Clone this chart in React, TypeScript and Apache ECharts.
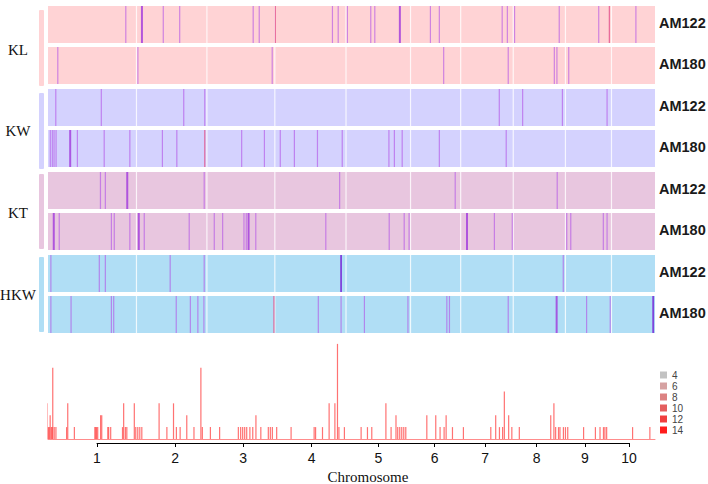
import React, { useEffect, useRef } from 'react';
import * as echarts from 'echarts';

// ---- data ----
const chromLabels = ['1', '2', '3', '4', '5', '6', '7', '8', '9', '10'];
const chromLengths = [307.0, 244.4, 235.7, 247.0, 223.9, 174.0, 182.4, 181.1, 159.8, 151.0];

const traits = ['KL', 'KW', 'KT', 'HKW'];
const lines = ['AM122', 'AM180'];

// [cumulative position (Mb), signal class]
const klAM122 = [[270,1],[326,2],[400,1],[457,1],[712,1],[733,1],[789,3],[987,1],[1007,1],[1039,1],[1120,1],[1134,1],[1221,2],[1327,1],[1358,1],[1576,1],[1594,1],[1619,1],[1774,1],[1911,1],[1948,3],[2040,1]];
const klAM180 = [[34,1],[312,1],[778,1],[1373,1],[1597,1],[1757,1],[1766,1],[1807,1]];
const kwAM122 = [[27,1],[185,1],[471,1],[544,1],[1566,1],[1647,1],[1785,1],[1940,1]];
const kwAM180 = [[8,1],[15,1],[21,1],[28,1],[77,2],[102,1],[195,1],[284,1],[397,1],[447,1],[544,3],[672,1],[751,1],[806,1],[855,1],[935,1],[1021,1],[1183,1],[1202,1],[1229,1],[1358,1],[1590,1]];
const ktAM122 = [[182,1],[199,1],[275,2],[542,1],[1012,1],[1413,1],[1767,1]];
const ktAM180 = [[20,2],[39,1],[220,1],[230,1],[284,1],[315,2],[334,1],[490,1],[577,1],[606,1],[680,1],[688,1],[696,2],[721,1],[964,1],[1184,1],[1236,1],[1253,1],[1454,2],[1549,1],[1611,1],[1800,1],[1814,1],[1927,1],[1940,1]];
const hkwAM122 = [[10,1],[178,1],[199,1],[424,1],[542,1],[1017,4],[1788,1]];
const hkwAM180 = [[10,1],[80,1],[220,1],[228,1],[445,1],[494,1],[520,1],[541,1],[784,3],[938,1],[1017,1],[1098,1],[1249,1],[1384,1],[1393,1],[1597,1],[1765,2],[1869,1],[1951,1],[2100,4]];

const rowData = [klAM122, klAM180, kwAM122, kwAM180, ktAM122, ktAM180, hkwAM122, hkwAM180];

// [cumulative position (Mb), count]
const snpCounts = [[9,3],[13,1],[16,1],[19,2],[23,1],[26,1],[28,6],[33,1],[39,1],
[76,1],[80,3],[103,1],
[174,1],[177,1],[180,1],[184,1],[194,2],[198,2],
[219,1],[222,1],[229,1],
[270,1],[274,3],[280,1],[285,1],
[311,3],[316,1],[323,1],[330,1],[337,1],
[397,3],[424,1],[447,3],[457,1],[470,1],[493,2],[518,1],[542,6],[547,1],[575,1],[607,1],
[672,1],[680,1],[687,1],[694,1],[701,1],[712,1],[722,1],[733,2],[750,1],[776,1],[783,1],[790,1],[805,1],[855,1],[935,1],[940,1],[964,1],[987,3],[1007,3],[1016,8],[1021,1],[1040,1],
[1098,1],[1120,1],[1135,1],[1184,3],[1202,1],[1219,2],[1225,1],[1232,1],[1239,1],[1246,1],[1253,1],
[1326,2],[1357,2],[1372,1],[1386,1],[1393,2],[1415,1],[1453,1],
[1548,1],[1565,2],[1578,1],[1589,1],[1595,4],[1610,2],[1621,1],[1647,1],
[1756,2],[1767,3],[1773,1],[1783,1],[1788,1],[1800,1],[1807,1],[1815,1],[1870,1],[1911,1],[1927,1],[1939,1],[1944,1],[1950,1],[2040,1],[2100,1]];

const legendLabels = ['4', '6', '8', '10', '12', '14'];

// ---- styling ----
const traitColors = ['#FFD3D5', '#D4D2FE', '#E8C6DF', '#B0DEF5'];
const legendColors = ['#c2c2c2', '#d6a2a2', '#dc8282', '#e45e5e', '#f03e3e', '#ff1c1c'];
const stripeColors: Record<number, string> = {
  1: 'rgba(178,80,230,0.62)',
  2: 'rgba(160,55,220,0.8)',
  3: 'rgba(225,75,135,0.75)',
  4: 'rgba(120,45,215,0.88)',
};
const stripeWidths: Record<number, number> = { 1: 1.2, 2: 2.0, 3: 1.3, 4: 1.8 };

const rowTops = [6, 47, 89, 130, 172, 213, 255, 296];
const rowH = 37;
const plotLeft = 48;
const plotW = 607;

export default function App() {
  const ref = useRef<HTMLDivElement>(null);
  useEffect(() => {
    const chart = echarts.init(ref.current!, null, { renderer: 'svg' });

    const genomeLen = chromLengths.reduce((a, b) => a + b, 0);
    const cum: number[] = [];
    let acc = 0;
    chromLengths.forEach((l) => { cum.push(acc); acc += l; });
    const boundaries = cum.slice(1);
    const mids = chromLengths.map((l, i) => cum[i] + l / 2);

    const grids: any[] = [];
    const xAxes: any[] = [];
    const yAxes: any[] = [];
    const series: any[] = [];
    const graphics: any[] = [];

    rowData.forEach((d, i) => {
      const trait = Math.floor(i / 2);
      grids.push({ left: plotLeft, top: rowTops[i], width: plotW, height: rowH, show: true, backgroundColor: traitColors[trait], borderWidth: 0 });
      xAxes.push({ gridIndex: i, type: 'value', min: 0, max: genomeLen, show: false });
      yAxes.push({ gridIndex: i, type: 'value', min: 0, max: 1, show: false });
      series.push({
        type: 'custom', xAxisIndex: i, yAxisIndex: i, silent: true,
        data: boundaries.map((b) => [b, 0]),
        renderItem: (params: any, api: any) => {
          const top = api.coord([api.value(0), 1]);
          const bot = api.coord([api.value(0), 0]);
          return { type: 'line', shape: { x1: top[0], y1: top[1], x2: bot[0], y2: bot[1] }, style: { stroke: 'rgba(255,255,255,0.8)', lineWidth: 1.2 } };
        },
      });
      series.push({
        type: 'custom', xAxisIndex: i, yAxisIndex: i, silent: true,
        data: d,
        renderItem: (params: any, api: any) => {
          const cls = api.value(1);
          const top = api.coord([api.value(0), 1]);
          const bot = api.coord([api.value(0), 0]);
          const w = stripeWidths[cls] || 1.2;
          return { type: 'rect', shape: { x: top[0] - w / 2, y: top[1], width: w, height: bot[1] - top[1] }, style: { fill: stripeColors[cls] || stripeColors[1] } };
        },
      });
      graphics.push({
        type: 'text', x: 659, y: rowTops[i] + 16.5,
        style: { text: lines[i % 2], font: 'bold 14.5px "Liberation Sans", Arial, sans-serif', fill: '#1a1a1a', textAlign: 'left', textVerticalAlign: 'middle', align: 'left', verticalAlign: 'middle' },
      });
    });

    // histogram grid (index 8)
    grids.push({ left: plotLeft, top: 332, width: plotW, height: 107 });
    xAxes.push({ gridIndex: 8, type: 'value', min: 0, max: genomeLen, axisLine: { show: true, onZero: false, lineStyle: { color: '#ff8c8c', width: 1 } }, axisTick: { show: false }, axisLabel: { show: false }, splitLine: { show: false } });
    yAxes.push({ gridIndex: 8, type: 'value', min: 0, max: 9, show: false });
    series.push({
      type: 'bar', xAxisIndex: 8, yAxisIndex: 8, silent: true, barWidth: 1.2,
      data: snpCounts, itemStyle: { color: 'rgba(255,60,60,0.72)' },
    });
    legendLabels.forEach((n, k) => {
      series.push({ name: n, type: 'bar', xAxisIndex: 8, yAxisIndex: 8, data: [], itemStyle: { color: legendColors[k] } });
    });

    // chromosome axis grid (index 9)
    grids.push({ left: 97, top: 442, width: 532, height: 1 });
    xAxes.push({
      gridIndex: 9, type: 'value', min: mids[0], max: mids[9],
      axisLine: { show: true, onZero: false, lineStyle: { color: '#000', width: 1 } },
      axisTick: { show: true, customValues: mids, length: 4, lineStyle: { color: '#000' } },
      axisLabel: {
        customValues: mids, margin: 8, fontSize: 14, color: '#111', fontFamily: '"Liberation Sans", Arial, sans-serif',
        formatter: (v: number) => {
          let best = 0;
          mids.forEach((m, k) => { if (Math.abs(m - v) < Math.abs(mids[best] - v)) best = k; });
          return chromLabels[best];
        },
      },
      splitLine: { show: false },
    });
    yAxes.push({ gridIndex: 9, type: 'value', min: 0, max: 1, show: false });

    // trait side bars & labels
    const sideTops = [10, 93, 174, 257];
    const sideBottoms = [86, 169, 249, 332];
    const labelY = [50, 131, 213, 295];
    traits.forEach((t, k) => {
      graphics.push({ type: 'rect', shape: { x: 39, y: sideTops[k], width: 5, height: sideBottoms[k] - sideTops[k], r: 1 }, style: { fill: traitColors[k] } });
      graphics.push({
        type: 'text', x: 18, y: labelY[k],
        style: { text: t, font: '15px "Liberation Serif", "Times New Roman", serif', fill: '#111', textAlign: 'center', textVerticalAlign: 'middle', align: 'center', verticalAlign: 'middle' },
      });
    });
    graphics.push({
      type: 'text', x: 368, y: 477,
      style: { text: 'Chromosome', font: '15px "Liberation Serif", "Times New Roman", serif', fill: '#111', textAlign: 'center', textVerticalAlign: 'middle', align: 'center', verticalAlign: 'middle' },
    });

    chart.setOption({
      animation: false,
      backgroundColor: '#fff',
      grid: grids,
      xAxis: xAxes,
      yAxis: yAxes,
      series,
      legend: {
        data: legendLabels, orient: 'vertical', left: 660, top: 370, padding: 0,
        itemWidth: 7, itemHeight: 7, itemGap: 1, icon: 'rect',
        textStyle: { fontSize: 10, color: '#444', lineHeight: 9, fontFamily: '"Liberation Sans", Arial, sans-serif' },
        selectedMode: false,
      },
      graphic: graphics,
    });
    return () => chart.dispose();
  }, []);
  return <div ref={ref} style={{ position: 'absolute', left: 0, top: 0, width: 708, height: 484 }} />;
}
